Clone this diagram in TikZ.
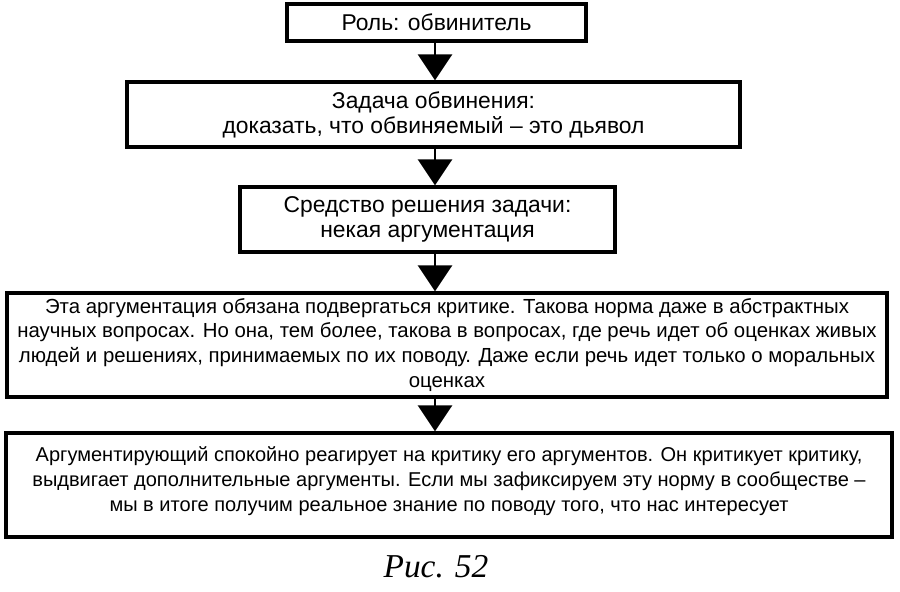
\documentclass[tikz,border=0pt]{standalone}
\usepackage{fontspec}
\setmainfont{Liberation Serif}
\setsansfont{Liberation Sans}
\usetikzlibrary{arrows.meta}

\begin{document}
\begin{tikzpicture}[>={Triangle[length=0.52cm,width=0.68cm]},
  box/.style={draw,line width=1.9pt,align=center,inner sep=0pt,font=\sffamily\fontsize{13}{14.2}\selectfont},
  wide/.style={box,font=\sffamily\fontsize{11.6}{14.2}\selectfont}]
\useasboundingbox (0,0) rectangle (18,-11.84);
\node[box,minimum width=5.98cm,minimum height=0.74cm] (rol) at (8.73,-0.45) {Роль: обвинитель};
\node[box,minimum width=12.26cm,minimum height=1.30cm] (zad) at (8.67,-2.29) {Задача обвинения:\\доказать, что обвиняемый – это дьявол};
\node[box,minimum width=7.50cm,minimum height=1.30cm] (sred) at (8.55,-4.39) {Средство решения задачи:\\некая аргументация};
\node[wide,minimum width=17.60cm,minimum height=2.08cm] (krit) at (8.94,-6.90) {Эта аргументация обязана подвергаться критике. Такова норма даже в абстрактных\\научных вопросах. Но она, тем более, такова в вопросах, где речь идет об оценках живых\\людей и решениях, принимаемых по их поводу. Даже если речь идет только о моральных\\оценках};
\node[wide,minimum width=17.72cm,minimum height=2.08cm,text depth=7pt,font=\sffamily\fontsize{11.4}{14.2}\selectfont] (norm) at (8.98,-9.70) {Аргументирующий спокойно реагирует на критику его аргументов. Он критикует критику,\\выдвигает дополнительные аргументы. Если мы зафиксируем эту норму в сообществе –\\мы в итоге получим реальное знание по поводу того, что нас интересует};
\node[font=\itshape\fontsize{19}{22}\selectfont] (ris) at (8.72,-11.34) {Рис. 52};
\coordinate (ax) at (8.70,0);
\draw[->,line width=1.7pt] (ax |- rol.south) -- (ax |- zad.north);
\draw[->,line width=1.7pt] (ax |- zad.south) -- (ax |- sred.north);
\draw[->,line width=1.7pt] (ax |- sred.south) -- (ax |- krit.north);
\draw[->,line width=1.7pt] (ax |- krit.south) -- (ax |- norm.north);
\end{tikzpicture}
\end{document}
